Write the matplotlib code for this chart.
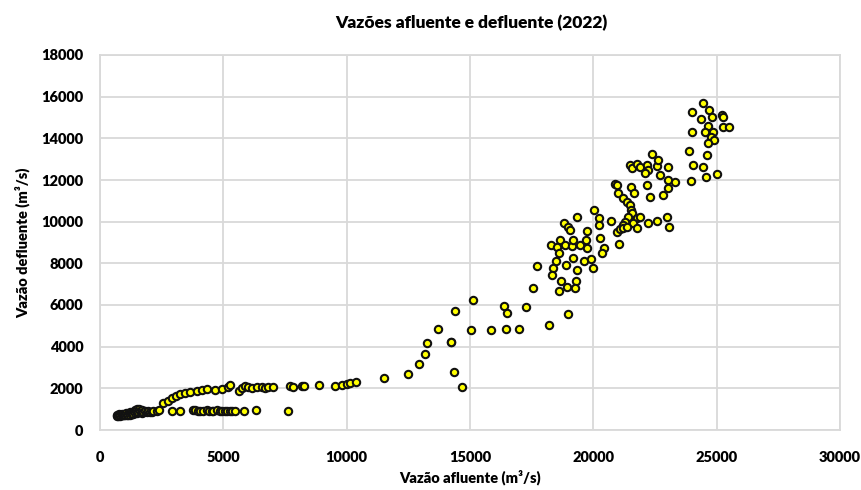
import matplotlib
matplotlib.use("Agg")
import matplotlib.pyplot as plt

# Vazão afluente (x) and defluente (y), m³/s
afluente = [
    # low cluster
    676, 700, 743, 760, 811, 830, 878, 900, 946, 980, 1013, 1050, 1081, 1120, 1148, 1200,
    1216, 1250, 1283, 1351, 1400, 1418, 1486, 1500, 1553, 1600, 1621, 1689, 1700, 1756,
    1824, 1891, 1959, 2026, 2094, 2161, 2297, 2405,
    # lower band (~900)
    2905, 3243, 3783, 3850, 3986, 4050, 4189, 4325, 4400, 4527, 4600, 4730, 4850, 4933,
    5067, 5150, 5270, 5350, 5473, 5850, 6324, 7633,
    # rising branch
    2567, 2770, 2905, 3080, 3242, 3445, 3648, 3918, 4121, 4323, 4661, 4931, 5201, 5269,
    5647, 5742, 5877, 6012, 6147, 6350, 6552, 6687, 6823, 7025, 7701, 7836, 8174, 8268,
    8890, 9525, 9795, 9997, 10132, 10376, 11524, 12497, 12929, 13172, 13240, 14226,
    14348, 14658,
    # mid region
    14392, 15108, 13716, 14230, 15027, 15838, 16459, 16999,
    # upper cloud
    21486, 21555, 21757, 21892, 22162, 22230, 22094, 22567, 22635, 23040, 24054, 24432,
    24567, 25026, 22702, 23040, 23311, 23946, 23040, 22837, 20878, 20946, 21013, 21513,
    21648, 22189, 22297, 21216, 21351, 21486, 21513, 21554, 21419, 21284, 21189, 21757,
    21892, 21622, 21784, 20946, 21081, 21216, 21351, 22230, 22594, 22973, 23081, 20716,
    20229, 20229, 20027, 19324, 18811, 18986, 19054, 19730, 20270, 18648, 18270, 18540,
    18621, 18851, 19122, 19162, 19459, 19702, 19730, 20432, 20337, 21053, 19162, 18486,
    18378, 18338, 17729, 18892, 19324, 19621, 19892, 19973, 18675, 19297, 18918, 19270,
    18621, 17567, 16378, 16513, 17270, 18986, 18189,
    # top
    24459, 24013, 24689, 24798, 25203, 25243, 24352, 24661, 25270, 25513, 23986, 24527,
    24864, 24757, 24891, 24661, 23878, 24594, 22362,
]
defluente = [
    688, 740, 688, 760, 688, 720, 704, 780, 704, 740, 704, 800, 720, 780, 720, 850,
    736, 800, 752, 768, 950, 800, 832, 1000, 880, 1000, 912, 832, 950, 880,
    912, 864, 896, 880, 880, 896, 912, 960,
    928, 928, 960, 940, 912, 910, 928, 960, 930, 912, 925, 960, 935, 900,
    928, 910, 900, 905, 890, 928, 960, 928,
    1280, 1408, 1520, 1632, 1712, 1792, 1840, 1888, 1920, 1952, 1936, 1968, 2080, 2144,
    1872, 2000, 2112, 2080, 2000, 2048, 2080, 2000, 2080, 2048, 2128, 2080, 2112, 2112,
    2160, 2112, 2160, 2208, 2272, 2320, 2512, 2672, 3168, 3632, 4192, 4240,
    2800, 2048,
    5712, 6240, 4832, 4240, 4784, 4784, 4832, 4832,
    12720, 12560, 12768, 12640, 12720, 12480, 12320, 12672, 12960, 12608, 12720, 12608,
    12160, 12288, 12240, 12000, 11920, 11968, 11600, 11280, 11808, 11760, 11360, 11680,
    11360, 11760, 11168, 11120, 10960, 10800, 10560, 10400, 10240, 10000, 9840, 10160,
    10208, 9920, 9712, 9520, 9632, 9680, 9760, 9920, 10048, 10208, 9728, 10032,
    10160, 9840, 10560, 10240, 9920, 9760, 9600, 9552, 9200, 9120, 8880, 8768,
    8480, 8880, 8832, 9120, 8880, 9120, 8720, 8720, 8480, 8912, 8272, 8128,
    7760, 7440, 7872, 7920, 7680, 8128, 8208, 7760, 7152, 7168, 6880, 6816,
    6688, 6832, 5952, 5632, 5920, 5568, 5024,
    15680, 15248, 15360, 15040, 15120, 15008, 14912, 14592, 14560, 14560, 14288, 14288,
    14320, 14048, 13920, 13760, 13408, 13200, 13248,
]

x_ticks = [0, 5000, 10000, 15000, 20000, 25000, 30000]
y_ticks = [0, 2000, 4000, 6000, 8000, 10000, 12000, 14000, 16000, 18000]

plt.rcParams['font.family'] = ['Lato', 'DejaVu Sans']

fig = plt.figure(figsize=(8.62, 4.90), dpi=100)
ax = fig.add_axes([100/862, 1-430/490, 740/862, 375/490])

grid_c = '#d9d9d9'
ax.set_xlim(0, 30000)
ax.set_ylim(0, 18000)
ax.set_xticks(x_ticks)
ax.set_yticks(y_ticks)
ax.grid(True, color=grid_c, linewidth=1.3, zorder=0)
ax.set_axisbelow(True)
for s in ax.spines.values():
    s.set_color(grid_c)
    s.set_linewidth(1.3)
ax.tick_params(length=0, labelsize=10.5)
ax.tick_params(axis='x', pad=15)
ax.tick_params(axis='y', pad=12)
for lab in ax.get_xticklabels() + ax.get_yticklabels():
    lab.set_fontweight('heavy')

ax.scatter(afluente, defluente, s=28, c='#ffff00', edgecolors='#111111',
           linewidths=1.5, zorder=3, clip_on=False)

ax.set_xlabel('Vazão afluente (m³/s)', fontsize=10.5, fontweight='heavy', labelpad=4)
ax.set_ylabel('Vazão defluente (m³/s)', fontsize=10.5, fontweight='heavy', labelpad=8)
fig.text(471/862, 1-23/490, 'Vazões afluente e defluente (2022)', ha='center', va='center',
         fontsize=12.5, fontweight='heavy')

fig.savefig('out.png', dpi=100)
